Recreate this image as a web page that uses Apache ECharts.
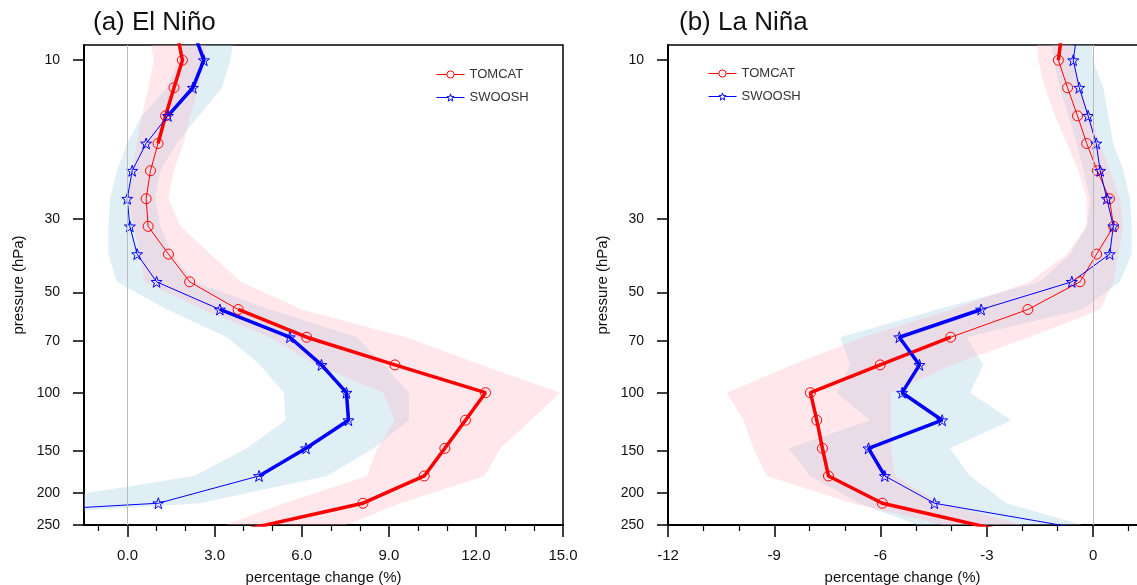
<!DOCTYPE html>
<html>
<head>
<meta charset="utf-8">
<script src="https://cdn.jsdelivr.net/npm/echarts@6/dist/echarts.min.js"></script>
<style>html,body{margin:0;padding:0;background:#fff;}#c{width:1137px;height:585px;}</style>
</head>
<body>
<div id="c"></div>
<script>
// pressure levels (hPa)
const levels = [8.25, 10, 12.1, 14.7, 17.8, 21.5, 26.1, 31.6, 38.3, 46.4, 56.2, 68.1, 82.5, 100, 121, 147, 178, 215, 261];
const yTickLabels = [10, 30, 50, 70, 100, 150, 200, 250];

// (a) El Nino
const elTomcat   = [1.7, 1.89, 1.60, 1.31, 1.05, 0.79, 0.64, 0.71, 1.41, 2.14, 3.81, 6.17, 9.21, 12.33, 11.64, 10.93, 10.22, 8.11, 3.8];
const elTomcatSig= [1,1,1,1,1,0,0,0,0,0,1,1,1,1,1,1,1,1,1];
const elTomcatLo = [0.75, 0.90, 0.72, 0.49, 0.32, 0.15, 0.03, 0.21, 0.44, 0.58, 2.6, 4.9, 6.5, 8.8, 9.2, 8.6, 8.25, 5.4, 2.8];
const elTomcatHi = [2.8, 2.62, 2.45, 2.16, 1.93, 1.59, 1.41, 1.82, 2.85, 3.9, 6.0, 9.6, 12.2, 14.9, 13.9, 12.85, 12.3, 9.4, 7.0];
const elSwoosh   = [2.28, 2.63, 2.25, 1.39, 0.64, 0.16, -0.01, 0.08, 0.33, 1.0, 3.18, 5.59, 6.68, 7.54, 7.61, 6.15, 4.53, 1.06, -16];
const elSwooshSig= [1,1,1,1,0,0,0,0,0,0,1,1,1,1,1,1,1,0,0];
const elSwooshLo = [1.9, 1.76, 1.35, 0.49, -0.02, -0.37, -0.60, -0.66, -0.66, -0.37, 1.36, 3.43, 4.57, 5.38, 5.44, 4.11, 2.28, -3.6, -30];
const elSwooshHi = [3.7, 3.54, 3.25, 2.45, 1.70, 1.13, 0.95, 1.13, 1.53, 2.28, 4.9, 7.9, 8.83, 9.69, 9.69, 8.48, 6.87, 2.5, -13];

// (b) La Nina
const laTomcat   = [-0.88, -0.98, -0.72, -0.44, -0.18, 0.12, 0.46, 0.58, 0.10, -0.37, -1.84, -4.02, -6.01, -7.98, -7.80, -7.64, -7.47, -5.95, -2.5];
const laTomcatSig= [1,1,0,0,0,0,0,0,0,0,0,1,1,1,1,1,1,1,1];
const laTomcatLo = [-1.62, -1.55, -1.36, -1.07, -0.74, -0.41, -0.18, -0.18, -0.74, -1.78, -4.0, -6.5, -8.5, -10.34, -9.87, -9.59, -9.21, -6.8, -3.5];
const laTomcatHi = [-0.6, -0.56, -0.37, -0.08, 0.2, 0.48, 0.76, 0.85, 0.71, 0.57, 0.2, -1.8, -4.0, -5.7, -5.7, -5.7, -5.6, -4.3, -1.3];
const laSwoosh   = [-0.45, -0.56, -0.39, -0.14, 0.09, 0.20, 0.39, 0.57, 0.47, -0.60, -3.16, -5.47, -4.90, -5.39, -4.26, -6.34, -5.88, -4.48, 0.08];
const laSwooshSig= [0,0,0,0,0,0,0,0,0,0,1,1,1,1,1,1,1,0,0];
const laSwooshLo = [-1.2, -1.12, -0.93, -0.70, -0.46, -0.27, -0.08, -0.18, -0.65, -1.50, -4.4, -7.14, -6.86, -7.24, -6.30, -8.6, -7.99, -6.6, -4.5];
const laSwooshHi = [-0.05, 0.0, 0.29, 0.43, 0.57, 0.86, 1.04, 1.09, 1.09, 0.76, -0.3, -3.57, -3.10, -3.47, -2.30, -4.04, -3.47, -2.44, 0.3];

const elXMajor = [0, 3, 6, 9, 12, 15];
const elXMinor = [-1, 1, 2, 4, 5, 7, 8, 10, 11, 13, 14];
const laXMajor = [-12, -9, -6, -3, 0];
const laXMinor = [-11, -10, -8, -7, -5, -4, -2, -1, 1];

const FONT = 'Liberation Sans, Arial, Helvetica, sans-serif';
const RED = '#ff0000', BLUE = '#0000ff';
const PINK = 'rgba(255,180,195,0.32)', LBLUE = 'rgba(165,208,228,0.34)';
const STAR = 'path://M0,-10 L2.35,-3.24 L9.51,-3.09 L3.8,1.24 L5.88,8.09 L0,4 L-5.88,8.09 L-3.8,1.24 L-9.51,-3.09 L-2.35,-3.24 Z';
const lg = v => Math.log10(v);

function pts(vals) { return levels.map((p, i) => [vals[i], lg(p)]); }
function sigPts(vals, sig) { return levels.map((p, i) => sig[i] ? [vals[i], lg(p)] : null); }

function bandSeries(lo, hi, fill, idx) {
  return {
    type: 'custom', name: 'band', xAxisIndex: idx * 2, yAxisIndex: idx, z: 1, silent: true,
    data: levels.map((p, i) => [lo[i], hi[i], lg(p)]),
    renderItem: function (params, api) {
      if (params.dataIndex !== 0) return null;
      const poly = [];
      for (let i = 0; i < levels.length; i++) poly.push(api.coord([lo[i], lg(levels[i])]));
      for (let i = levels.length - 1; i >= 0; i--) poly.push(api.coord([hi[i], lg(levels[i])]));
      const cs = params.coordSys;
      return { type: 'polygon', shape: { points: poly }, style: { fill: fill },
        clipPath: { type: 'rect', shape: { x: cs.x, y: cs.y, width: cs.width, height: cs.height } } };
    }
  };
}

function lineSeries(name, vals, color, symbol, idx, extra) {
  return Object.assign({
    type: 'line', name: name, xAxisIndex: idx * 2, yAxisIndex: idx, data: pts(vals),
    symbol: symbol, symbolSize: symbol === 'circle' ? 10 : 11, showSymbol: true, z: 4,
    lineStyle: { color: color, width: 1 },
    itemStyle: { color: 'rgba(255,255,255,0)', borderColor: color, borderWidth: 1 },
    clip: true, animation: false
  }, extra || {});
}
function thickSeries(name, vals, sig, color, idx) {
  return { type: 'line', name: name, xAxisIndex: idx * 2, yAxisIndex: idx, data: sigPts(vals, sig),
    showSymbol: false, symbol: 'none', connectNulls: false, z: 3,
    lineStyle: { color: color, width: 3.5 }, clip: true, animation: false };
}

function xAxes(gi, min, max, major, minor, fmt) {
  return [{
    type: 'value', gridIndex: gi, min: min, max: max, position: 'bottom',
    name: 'percentage change (%)', nameLocation: 'middle', nameGap: 45,
    nameTextStyle: { fontFamily: FONT, fontSize: 15, color: '#111' },
    axisLine: { show: true, onZero: false, lineStyle: { color: '#000', width: 2 } },
    axisTick: { show: true, customValues: major, length: 12, lineStyle: { color: '#000', width: 1.5 } },
    axisLabel: { show: true, customValues: major, margin: 23, formatter: fmt, fontFamily: FONT, fontSize: 15, color: '#111' },
    splitLine: { show: false }
  }, {
    type: 'value', gridIndex: gi, min: min, max: max, position: 'bottom',
    axisLine: { show: false, onZero: false },
    axisTick: { show: true, customValues: minor, length: 6, lineStyle: { color: '#000', width: 1.2 } },
    axisLabel: { show: false }, splitLine: { show: false }
  }];
}
function yAxis(gi) {
  const tv = yTickLabels.map(lg);
  return {
    type: 'value', gridIndex: gi, inverse: true, min: lg(9), max: lg(250), position: 'left',
    name: 'pressure (hPa)', nameLocation: 'middle', nameGap: 58, nameRotate: 90,
    nameTextStyle: { fontFamily: FONT, fontSize: 15, color: '#111' },
    axisLine: { show: true, onZero: false, lineStyle: { color: '#000', width: 2 } },
    axisTick: { show: true, customValues: tv, length: 11, lineStyle: { color: '#000', width: 1.5 } },
    axisLabel: { show: true, customValues: tv, margin: 24, fontFamily: FONT, fontSize: 14, color: '#111',
      formatter: v => String(Math.round(Math.pow(10, v))) },
    splitLine: { show: false }
  };
}
const topAxisRight = {
  type: 'value', gridIndex: 1, min: -12, max: 1.24, position: 'top',
  axisLine: { show: true, onZero: false, lineStyle: { color: '#000', width: 1.5 } },
  axisTick: { show: false }, axisLabel: { show: false }, splitLine: { show: false }
};

const zeroLine = { silent: true, symbol: ['none', 'none'], label: { show: false },
  lineStyle: { color: '#bbbbbb', width: 1, type: 'solid' }, data: [{ xAxis: 0 }], animation: false };

const legendData = [
  { name: 'TOMCAT', itemStyle: { color: '#ffffff', borderColor: RED, borderWidth: 1 } },
  { name: 'SWOOSH', itemStyle: { color: '#ffffff', borderColor: BLUE, borderWidth: 1 } }
];

const option = {
  animation: false,
  title: [
    { text: '(a) El Niño', left: 88, top: 5, textStyle: { fontFamily: FONT, fontSize: 26, fontWeight: 'normal', color: '#111' } },
    { text: '(b) La Niña', left: 674, top: 5, textStyle: { fontFamily: FONT, fontSize: 26, fontWeight: 'normal', color: '#111' } }
  ],
  grid: [
    { left: 84, top: 45, width: 479, height: 480, outerBoundsMode: 'none', containLabel: false,
      show: true, borderColor: '#000', borderWidth: 1.5, backgroundColor: 'transparent' },
    { left: 668, top: 45, right: 0, height: 480, outerBoundsMode: 'none', containLabel: false, show: false }
  ],
  legend: [
    { data: legendData, orient: 'vertical', left: 431, top: 63, itemWidth: 28, itemHeight: 9, itemGap: 10,
      lineStyle: { width: 1 }, textStyle: { fontFamily: FONT, fontSize: 13, color: '#333' }, selectedMode: false },
    { data: legendData, orient: 'vertical', left: 703, top: 62, itemWidth: 28, itemHeight: 9, itemGap: 10,
      lineStyle: { width: 1 }, textStyle: { fontFamily: FONT, fontSize: 13, color: '#333' }, selectedMode: false }
  ],
  xAxis: [].concat(xAxes(0, -1.5, 15, elXMajor, elXMinor, v => v.toFixed(1)),
                   xAxes(1, -12, 1.24, laXMajor, laXMinor, v => String(v)),
                   [topAxisRight]),
  yAxis: [yAxis(0), yAxis(1)],
  series: [
    bandSeries(elSwooshLo, elSwooshHi, LBLUE, 0),
    bandSeries(elTomcatLo, elTomcatHi, PINK, 0),
    bandSeries(laSwooshLo, laSwooshHi, LBLUE, 1),
    bandSeries(laTomcatLo, laTomcatHi, PINK, 1),
    lineSeries('TOMCAT', elTomcat, RED, 'circle', 0, { markLine: zeroLine }),
    lineSeries('SWOOSH', elSwoosh, BLUE, STAR, 0),
    thickSeries('TOMCAT sig a', elTomcat, elTomcatSig, RED, 0),
    thickSeries('SWOOSH sig a', elSwoosh, elSwooshSig, BLUE, 0),
    lineSeries('TOMCAT', laTomcat, RED, 'circle', 1, { markLine: zeroLine }),
    lineSeries('SWOOSH', laSwoosh, BLUE, STAR, 1),
    thickSeries('TOMCAT sig b', laTomcat, laTomcatSig, RED, 1),
    thickSeries('SWOOSH sig b', laSwoosh, laSwooshSig, BLUE, 1)
  ]
};
const chart = echarts.init(document.getElementById('c'), null, { renderer: 'canvas' });
chart.setOption(option);
</script>
</body>
</html>
